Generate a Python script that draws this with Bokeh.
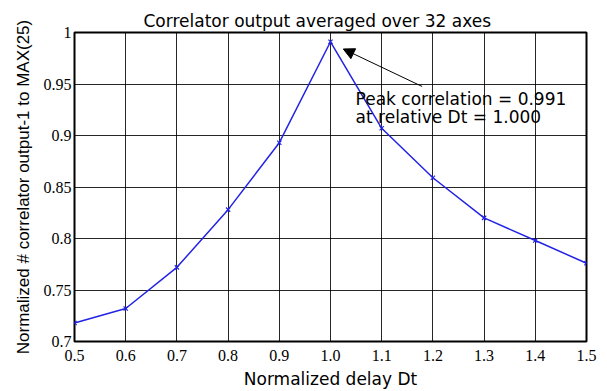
from bokeh.plotting import figure
from bokeh.models import Range1d, FixedTicker, Arrow, NormalHead
from bokeh.core.properties import value
from bokeh.embed import file_html
from bokeh.resources import INLINE

# ---- data ----
delay = [0.5, 0.6, 0.7, 0.8, 0.9, 1.0, 1.1, 1.2, 1.3, 1.4, 1.5]
corr = [0.718, 0.732, 0.772, 0.828, 0.893, 0.991, 0.907, 0.859, 0.820, 0.798, 0.776]
x_ticks = [0.5, 0.6, 0.7, 0.8, 0.9, 1.0, 1.1, 1.2, 1.3, 1.4, 1.5]
x_tick_labels = ["0.5", "0.6", "0.7", "0.8", "0.9", "1.0", "1.1", "1.2", "1.3", "1.4", "1.5"]
y_ticks = [0.7, 0.75, 0.8, 0.85, 0.9, 0.95, 1.0]
y_tick_labels = ["0.7", "0.75", "0.8", "0.85", "0.9", "0.95", "1"]
note_lines = ["Peak correlation = 0.991", "at relative Dt = 1.000"]

p = figure(width=607, height=391, output_backend="svg", toolbar_location=None,
           x_range=Range1d(0.5, 1.5), y_range=Range1d(0.7, 1.0),
           title="Correlator output averaged over 32 axes",
           min_border_left=74, min_border_right=21, min_border_top=32, min_border_bottom=50)

p.title.text_font = "DejaVu Sans"
p.title.text_font_size = "17px"
p.title.text_font_style = "normal"
p.title.text_color = "black"
p.title.align = "left"
p.title.standoff = 4
p.title.offset = 69

p.xaxis.ticker = FixedTicker(ticks=x_ticks)
p.yaxis.ticker = FixedTicker(ticks=y_ticks)
p.xaxis.major_label_overrides = {t: l for t, l in zip(x_ticks, x_tick_labels)}
p.yaxis.major_label_overrides = {t: l for t, l in zip(y_ticks, y_tick_labels)}

for ax in (p.xaxis, p.yaxis):
    ax.major_label_text_font = "Liberation Serif"
    ax.major_label_text_font_size = "16px"
    ax.major_label_text_color = "black"
    ax.major_tick_in = 0
    ax.major_tick_out = 0
    ax.minor_tick_in = 0
    ax.minor_tick_out = 0
    ax.axis_line_color = None
    ax.axis_label_text_font_style = "normal"
    ax.axis_label_text_font_size = "17px"
    ax.axis_label_text_color = "black"

p.xaxis.axis_label = "Normalized delay Dt"
p.xaxis.axis_label_text_font = "DejaVu Sans"
p.xaxis.major_label_standoff = 8
p.xaxis.axis_label_standoff = 5

p.yaxis.axis_label = "Normalized # correlator output-1 to MAX(25)"
p.yaxis.axis_label_text_font = "Liberation Sans"
p.yaxis.major_label_standoff = 3
p.yaxis.axis_label_standoff = 8

p.grid.grid_line_color = "black"
p.grid.grid_line_alpha = 0.85
p.grid.grid_line_width = 1

p.outline_line_color = "black"
p.outline_line_width = 2
p.background_fill_color = "white"
p.border_fill_color = "white"

p.line(delay, corr, line_color="#2323e6", line_width=1.5)
p.scatter(delay, corr, marker="x", size=6, line_color="#2323e6", line_width=1.2)

p.add_layout(Arrow(end=NormalHead(size=11, fill_color="black", line_color="black"),
                   x_start=1.179, y_start=0.9476, x_end=1.025, y_end=0.984,
                   line_color="black", line_width=1))

p.text(x=[1.049, 1.049], y=[0.9359, 0.9175], text=note_lines,
       text_font=value("DejaVu Sans"), text_font_size="17px",
       text_baseline="middle", text_align="left", text_color="black")

open("out.html", "w").write(file_html(p, INLINE))
